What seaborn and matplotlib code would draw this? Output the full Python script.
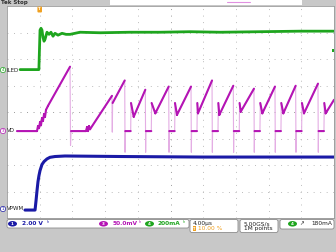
import numpy as np
import pandas as pd
import matplotlib
matplotlib.use("Agg")
import matplotlib.pyplot as plt
import seaborn as sns
from matplotlib.patches import FancyBboxPatch, Rectangle, Ellipse

# ---------------- data (time in µs, level in screen divisions) ----------------
iled_t = [-2.4, -0.1, 0.04, 0.16, 0.28, 0.4, 0.53, 0.65, 0.89, 1.14, 1.38, 1.63, 1.87,
          2.24, 2.73, 3.22, 3.71, 4.32, 4.93, 7.4, 11.0, 14.7, 18.4, 22.1, 27.0, 31.8, 36.0]
iled_v = [1.60, 1.60, 3.09, 3.16, 3.09, 2.82, 2.67, 2.74, 3.01, 2.93, 3.01, 2.86, 2.97,
          2.90, 2.97, 2.93, 2.93, 2.97, 3.01, 2.99, 3.01, 3.01, 3.03, 3.01, 3.03, 3.05, 3.05]

vpwm_t = [-1.8, -0.57, -0.45, -0.33, -0.21, -0.09, 0.04, 0.28, 0.53, 0.89, 1.26, 1.87,
          3.09, 10.0, 20.0, 30.0, 36.0]
vpwm_v = [-3.70, -3.70, -3.35, -2.97, -2.63, -2.40, -2.21, -1.98, -1.87, -1.77, -1.71,
          -1.68, -1.66, -1.68, -1.70, -1.70, -1.70]

vd_t = [-2.78, -0.33, -0.21, -0.09, 0.04, 0.16, 0.28, 0.40, 0.53, 0.65, 0.77, 1.01, 3.71,
        3.77, 3.83, 5.66, 5.79, 5.91, 6.03, 6.16, 8.84, 8.88, 8.92, 10.40,
        10.44, 10.47, 11.13, 11.17, 11.50, 12.92,
        12.96, 12.99, 13.65, 13.69, 14.14, 15.78,
        15.82, 15.85, 16.51, 16.55, 16.79, 18.51,
        18.55, 18.58, 19.24, 19.28, 19.36, 21.08,
        21.12, 21.15, 21.81, 21.85, 21.97, 23.68,
        23.72, 23.75, 24.41, 24.45, 24.59, 26.21,
        26.25, 26.28, 26.94, 26.98, 27.23, 28.78,
        28.82, 28.85, 29.51, 29.55, 29.80, 31.31,
        31.35, 31.38, 32.04, 32.08, 32.33, 34.04,
        34.08, 34.11, 34.77, 34.81, 34.98, 36.0]
vd_v = [-0.72, -0.72, -0.53, -0.61, -0.38, -0.50, -0.23, -0.34, -0.08, -0.19, 0.08, 0.23, 1.71,
        -1.26, -0.72, -0.72, -0.57, -0.72, -0.53, -0.65, 0.61, -0.76, 0.34, 1.19,
        -1.52, -0.72, -0.72, 0.34, -0.18, 0.84,
        -1.52, -0.72, -0.72, 0.34, -0.05, 0.96,
        -1.52, -0.72, -0.72, 0.34, -0.11, 0.96,
        -1.52, -0.72, -0.72, 0.34, -0.05, 1.19,
        -1.52, -0.72, -0.72, 0.34, -0.11, 0.99,
        -1.52, -0.72, -0.72, 0.34, 0.01, 0.88,
        -1.52, -0.72, -0.72, 0.34, -0.05, 0.96,
        -1.52, -0.72, -0.72, 0.34, -0.05, 0.99,
        -1.52, -0.72, -0.72, 0.34, -0.05, 1.07,
        -1.52, -0.72, -0.72, 0.34, -0.05, 0.46]

channel_names = ["ILED", "VD", "VPWM"]
channel_nums = ["4", "3", "1"]
scale_labels = ["2.00 V", "50.0mV", "200mA"]
timebase = "4.00µs"
trig_pos = "10.00 %"
sample_rate = "5.00GS/s"
rec_len = "1M points"
trig_level = "180mA"

GREEN = "#1ea51e"
BLUE = "#1a1aa6"
MAG = "#b414b4"
MAG_LIGHT = "#e4aee4"
ORANGE = "#f0a020"

sns.set_theme(style="white")
plt.rcParams['font.family'] = ['DejaVu Sans']

W, H = 336, 252
fig = plt.figure(figsize=(3.36, 2.52), dpi=100, facecolor="#c8c8c8")


def fx(px):
    return px / W


def fy(py):
    return 1 - py / H


ax = fig.add_axes([fx(7), fy(218), fx(334) - fx(7), fy(6) - fy(218)])
ax.set_facecolor("white")
ax.set_xlim(-4, 36)
ax.set_ylim(-4, 4)
ax.set_xticks([])
ax.set_yticks([])
for s in ax.spines.values():
    s.set_color("#9a9a9a")
    s.set_linewidth(0.6)

# graticule
for xv in np.arange(0, 36, 4):
    c = "#9c9c9c" if xv == 16 else "#bcbcbc"
    ax.axvline(xv, color=c, lw=0.7, ls=(0, (1, 5.7)), zorder=0)
for yv in range(-3, 4):
    c = "#9c9c9c" if yv == 0 else "#bcbcbc"
    ax.axhline(yv, color=c, lw=0.7, ls=(0, (1, 5.7)), zorder=0)

# traces
sns.lineplot(x=iled_t, y=iled_v, color=GREEN, lw=2.0, ax=ax, estimator=None, sort=False, zorder=3)
sns.lineplot(x=vpwm_t, y=vpwm_v, color=BLUE, lw=2.2, ax=ax, estimator=None, sort=False, zorder=4)
sns.lineplot(x=vd_t, y=vd_v, color=MAG_LIGHT, lw=0.8, ax=ax, estimator=None, sort=False, zorder=2)
# dark (slow) segments of VD
dt = np.diff(vd_t)
dv = np.diff(vd_v)
slow = np.abs(dv) / dt < 5
xs, ys = [], []
for i in np.where(slow)[0]:
    xs += [vd_t[i], vd_t[i + 1], np.nan]
    ys += [vd_v[i], vd_v[i + 1], np.nan]
ax.plot(xs, ys, color=MAG, lw=1.5, zorder=3, solid_capstyle="round")

# overlay in pixel coordinates for screen decorations
ov = fig.add_axes([0, 0, 1, 1], zorder=5)
ov.set_xlim(0, W)
ov.set_ylim(H, 0)
ov.axis("off")
ov.patch.set_alpha(0)

# top strip
ov.add_patch(Rectangle((110, 0), 192, 5, facecolor="white", edgecolor="none"))
ov.plot([227, 250], [2, 2], color="#e090e0", lw=0.8)
ov.text(1, 2.6, "Tek Stop", fontsize=4, color="#303030", fontweight="bold", va="center", ha="left")
# trigger position marker
ov.text(39.7, 9.5, "T", fontsize=2.8, color="white", ha="center", va="center", fontweight="bold",
        bbox=dict(boxstyle="round,pad=0.25", fc=ORANGE, ec="none"))
# trigger level marker on right
ov.add_patch(Rectangle((332, 48.5), 2, 3, facecolor=GREEN, edgecolor="none"))

# channel labels on the left
lab_y = [70, 131, 209]
lab_col = [GREEN, MAG, BLUE]
for name, num, yy, col in zip(channel_names, channel_nums, lab_y, lab_col):
    ov.text(3, yy, num, fontsize=3, color=col, ha="center", va="center",
            bbox=dict(boxstyle="circle,pad=0.15", fc="white", ec=col, lw=0.5))
    ov.text(6.5, yy, name, fontsize=4, color="#202020", ha="left", va="center")

# status bar boxes
boxes = [(7, 219.5, 182, 8.5), (190, 219.5, 48, 13), (240, 219.5, 38, 13), (280, 219.5, 54, 9.5)]
for (bx, by, bw, bh) in boxes:
    ov.add_patch(FancyBboxPatch((bx, by), bw, bh, boxstyle="round,pad=0,rounding_size=2",
                                facecolor="white", edgecolor="#8c8c8c", lw=0.6))

sy = 223.8
pill_x = [12.5, 103.5, 149.5]
text_x = [22, 113, 158]
icon_x = [48, 140, 184]
pill_col = [BLUE, MAG, GREEN]
pill_num = ["1", "3", "4"]
for px_, tx, ix, col, num, lab in zip(pill_x, text_x, icon_x, pill_col, pill_num, scale_labels):
    ov.add_patch(Ellipse((px_, sy), 9, 5.5, facecolor=col, edgecolor="none"))
    ov.text(px_, sy, num, fontsize=3, color="white", ha="center", va="center", fontweight="bold")
    ov.text(tx, sy, lab, fontsize=4.2, color=col, ha="left", va="center", fontweight="bold")
    ov.text(ix, sy, "ʰ", fontsize=4, color=col, ha="center", va="center")

ov.text(193, sy, timebase, fontsize=4.2, color="#202020", ha="left", va="center")
ov.text(194.5, 228.6, "T", fontsize=2.6, color="white", ha="center", va="center", fontweight="bold",
        bbox=dict(boxstyle="square,pad=0.2", fc=ORANGE, ec="none"))
ov.text(198, 228.6, trig_pos, fontsize=4.2, color=ORANGE, ha="left", va="center")
ov.text(244, sy, sample_rate, fontsize=4.2, color="#202020", ha="left", va="center")
ov.text(244, 228.6, rec_len, fontsize=4.2, color="#202020", ha="left", va="center")
ov.add_patch(Ellipse((292.5, sy), 9, 5.5, facecolor=GREEN, edgecolor="none"))
ov.text(292.5, sy, "4", fontsize=3, color="white", ha="center", va="center", fontweight="bold")
ov.text(302, sy, "↗", fontsize=4, color="#202020", ha="center", va="center")
ov.text(332, sy, trig_level, fontsize=4.2, color="#202020", ha="right", va="center")

fig.savefig("out.png", dpi=100, facecolor=fig.get_facecolor())
